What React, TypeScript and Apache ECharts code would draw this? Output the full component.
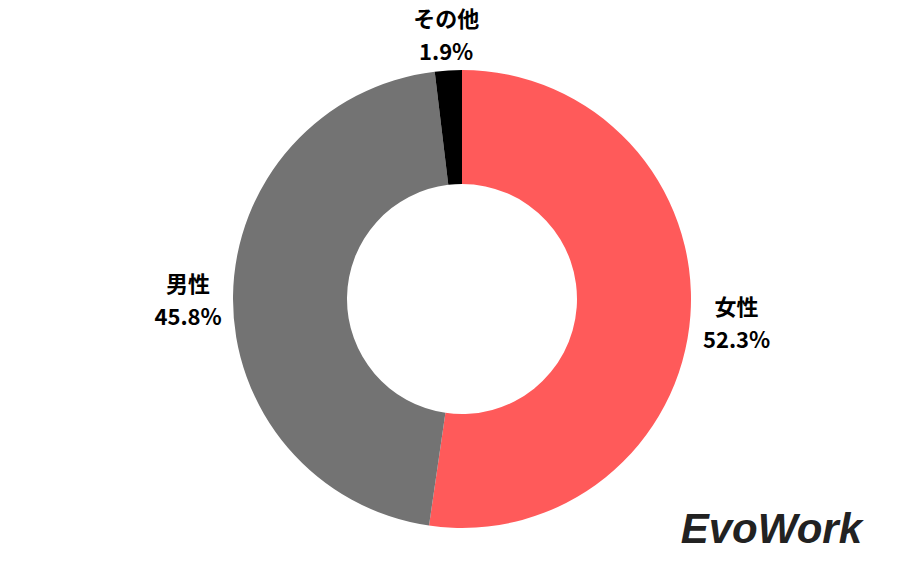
import React, { useEffect, useRef } from "react";
import * as echarts from "echarts";

const categories = ["女性", "男性", "その他"];
const values = [52.3, 45.8, 1.9];
const colors = ["#FF5A5A", "#737373", "#000000"];

const CX = 462;
const CY = 299;

export default function App() {
  const ref = useRef<HTMLDivElement>(null);
  useEffect(() => {
    if (!ref.current) return;
    const chart = echarts.init(ref.current, undefined, { renderer: "svg" });
    const total = values.reduce((a, b) => a + b, 0);
    const mids: number[] = [];
    let acc = 0;
    values.forEach((v) => {
      mids.push(((acc + v / 2) / total) * Math.PI * 2);
      acc += v;
    });
    chart.setOption({
      animation: false,
      backgroundColor: "#ffffff",
      series: [
        {
          type: "pie",
          center: [CX, CY],
          radius: [115, 229],
          startAngle: 90,
          clockwise: true,
          silent: true,
          label: {
            show: true,
            position: "outside",
            formatter: (p: any) => `${p.name}\n${p.value}%`,
            fontFamily: "Noto Sans CJK JP",
            fontWeight: "bold",
            fontSize: 22,
            lineHeight: 33,
            color: "#000000",
            align: "center",
          },
          labelLine: { show: false },
          labelLayout: (params: any) => {
            const a = mids[params.dataIndex];
            const dx = Math.sin(a);
            const dy = -Math.cos(a);
            const w = params.labelRect.width;
            const h = params.labelRect.height;
            const ext = Math.abs(dx) * w / 2 + Math.abs(dy) * (h / 2 - 9);
            const r = 240 + ext;
            return {
              x: CX + dx * r,
              y: CY + dy * r + 3 * Math.abs(dx),
              align: "center",
              verticalAlign: "middle",
            };
          },
          itemStyle: { borderWidth: 0 },
          data: categories.map((c, i) => ({
            name: c,
            value: values[i],
            itemStyle: { color: colors[i] },
          })),
        },
      ],
      graphic: [
        {
          type: "text",
          right: 38,
          top: 507,
          style: {
            text: "EvoWork",
            font: "italic bold 42px 'Liberation Sans', sans-serif",
            fill: "#222222",
          },
        },
      ],
    });
    return () => chart.dispose();
  }, []);
  return (
    <div
      ref={ref}
      style={{ position: "fixed", left: 0, top: 0, width: 900, height: 570 }}
    />
  );
}
